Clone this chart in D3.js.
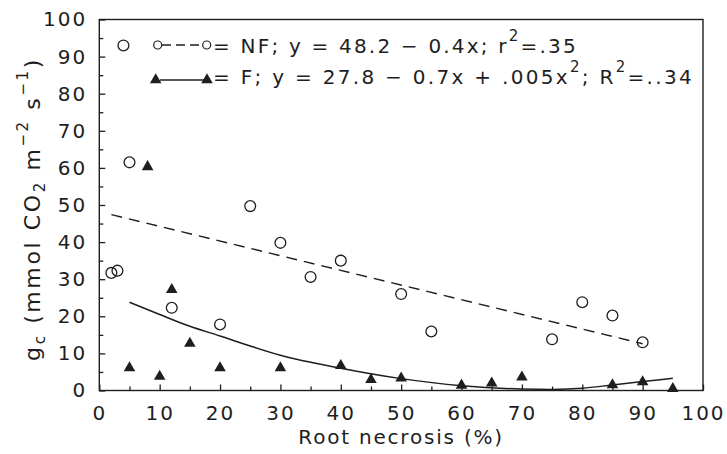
<!DOCTYPE html>
<html>
<head>
<meta charset="utf-8">
<script src="https://cdn.jsdelivr.net/npm/d3@7/dist/d3.min.js"></script>
<style>
  html, body { margin: 0; padding: 0; background: #ffffff; }
  svg { display: block; }
  text { font-family: "DejaVu Sans", sans-serif; fill: #1e1e1e; }
</style>
</head>
<body>
<svg id="chart" width="727" height="454"></svg>
<script>
// ---- data ----
const nfX = [2, 3, 4, 5, 12, 20, 25, 30, 35, 40, 50, 55, 75, 80, 85, 90];
const nfY = [31.7, 32.3, 93, 61.5, 22.3, 17.8, 49.7, 39.8, 30.6, 35.0, 26.0, 15.9, 13.8, 23.8, 20.2, 13.0];

const fX = [5, 8, 10, 12, 15, 20, 30, 40, 45, 50, 60, 65, 70, 85, 90, 95];
const fY = [6.1, 60.3, 3.8, 27.2, 12.7, 6.1, 6.1, 6.7, 2.9, 3.3, 1.4, 2.0, 3.6, 1.5, 2.3, 0.5];

// fitted lines as drawn in the figure
const nfFitX = [2, 90];
const nfFitY = [47.4, 12.6];
const fFitX = [5, 10, 15, 20, 25, 30, 40, 50, 60, 70, 75, 80, 85, 90, 95];
const fFitY = [23.8, 20.5, 17.3, 14.7, 12.0, 9.5, 6.0, 3.2, 1.3, 0.4, 0.3, 0.6, 1.5, 2.4, 3.3];

const xMajorTicks = [0, 10, 20, 30, 40, 50, 60, 70, 80, 90, 100];
const yMajorTicks = [0, 10, 20, 30, 40, 50, 60, 70, 80, 90, 100];
const minorTicks = [5, 15, 25, 35, 45, 55, 65, 75, 85, 95];

const xTitle = "Root necrosis (%)";

// ---- layout ----
const svg = d3.select("#chart");
const W = 727, H = 454;
const m = { left: 99.3, right: 24, top: 19.5, bottom: 63.5 };
const ink = "#1e1e1e";

const x = d3.scaleLinear().domain([0, 100]).range([m.left, W - m.right]);
const y = d3.scaleLinear().domain([0, 100]).range([H - m.bottom, m.top]);

// frame
svg.append("rect")
  .attr("x", x(0)).attr("y", y(100))
  .attr("width", x(100) - x(0)).attr("height", y(0) - y(100))
  .attr("fill", "none").attr("stroke", ink).attr("stroke-width", 1.4);

// axes
const gx = svg.append("g").attr("transform", `translate(0,${y(0)})`)
  .call(d3.axisBottom(x).tickValues(xMajorTicks).tickSize(-6).tickSizeOuter(0).tickPadding(15));
const gxm = svg.append("g").attr("transform", `translate(0,${y(0)})`)
  .call(d3.axisBottom(x).tickValues(minorTicks).tickSize(-4).tickSizeOuter(0).tickFormat(""));
const gy = svg.append("g").attr("transform", `translate(${x(0)},0)`)
  .call(d3.axisLeft(y).tickValues(yMajorTicks).tickSize(-6).tickSizeOuter(0).tickPadding(12));
const gym = svg.append("g").attr("transform", `translate(${x(0)},0)`)
  .call(d3.axisLeft(y).tickValues(minorTicks).tickSize(-4).tickSizeOuter(0).tickFormat(""));

[gx, gxm, gy, gym].forEach(g => {
  g.select(".domain").remove();
  g.selectAll(".tick line").attr("stroke", ink).attr("stroke-width", 1.3);
  g.selectAll(".tick text")
    .attr("font-family", "DejaVu Sans")
    .attr("font-size", 20)
    .attr("letter-spacing", "2px")
    .attr("fill", ink);
});

// x title
svg.append("text")
  .attr("x", (x(0) + x(100)) / 2)
  .attr("y", 444)
  .attr("text-anchor", "middle")
  .attr("font-size", 20)
  .attr("letter-spacing", "1.8px")
  .text(xTitle);

// y title
const yt = svg.append("text")
  .attr("transform", "translate(40,209) rotate(-90)")
  .attr("text-anchor", "middle")
  .attr("font-size", 22)
  .attr("letter-spacing", "2.6px");
yt.append("tspan").text("g");
yt.append("tspan").attr("font-size", 15).attr("dy", 5).text("c");
yt.append("tspan").attr("dy", -5).text(" (mmol CO");
yt.append("tspan").attr("font-size", 15).attr("dy", 5).text("2");
yt.append("tspan").attr("dy", -5).text(" m");
yt.append("tspan").attr("font-size", 15).attr("dy", -12).text("\u22122");
yt.append("tspan").attr("dy", 12).text(" s");
yt.append("tspan").attr("font-size", 15).attr("dy", -12).text("\u22121");
yt.append("tspan").attr("dy", 12).text(")");

// fit lines
const line = d3.line().x(d => x(d[0])).y(d => y(d[1]));
svg.append("path")
  .datum(nfFitX.map((v, i) => [v, nfFitY[i]]))
  .attr("d", line)
  .attr("fill", "none").attr("stroke", ink).attr("stroke-width", 1.4)
  .attr("stroke-dasharray", "11,7");
svg.append("path")
  .datum(fFitX.map((v, i) => [v, fFitY[i]]))
  .attr("d", line.curve(d3.curveMonotoneX))
  .attr("fill", "none").attr("stroke", ink).attr("stroke-width", 1.5);

// points
const tri = d3.symbol(d3.symbolTriangle, 58);
svg.append("g").selectAll("circle")
  .data(nfX.map((v, i) => [v, nfY[i]]))
  .join("circle")
  .attr("cx", d => x(d[0])).attr("cy", d => y(d[1]))
  .attr("r", 5.4)
  .attr("fill", "none").attr("stroke", ink).attr("stroke-width", 1.3);
svg.append("g").selectAll("path")
  .data(fX.map((v, i) => [v, fY[i]]))
  .join("path")
  .attr("d", tri)
  .attr("transform", d => `translate(${x(d[0])},${y(d[1])})`)
  .attr("fill", ink);

// legend
const lg = svg.append("g");
// row 1
lg.append("line").attr("x1", 162).attr("x2", 202).attr("y1", 45).attr("y2", 45)
  .attr("stroke", ink).attr("stroke-width", 1.4).attr("stroke-dasharray", "9,5");
lg.append("circle").attr("cx", 157.7).attr("cy", 45).attr("r", 4)
  .attr("fill", "#fff").attr("stroke", ink).attr("stroke-width", 1.2);
lg.append("circle").attr("cx", 206.7).attr("cy", 45).attr("r", 4)
  .attr("fill", "#fff").attr("stroke", ink).attr("stroke-width", 1.2);
const t1 = lg.append("text").attr("x", 213).attr("y", 53)
  .attr("font-size", 20).attr("letter-spacing", "2.2px");
t1.append("tspan").text("= NF; y = 48.2 \u2212 0.4x; r");
t1.append("tspan").attr("font-size", 15).attr("dy", -12).text("2");
t1.append("tspan").attr("dy", 12).text("=.35");
// row 2
lg.append("line").attr("x1", 160).attr("x2", 204).attr("y1", 80).attr("y2", 80)
  .attr("stroke", ink).attr("stroke-width", 1.4);
lg.append("path").attr("d", tri).attr("transform", "translate(155.7,80)").attr("fill", ink);
lg.append("path").attr("d", tri).attr("transform", "translate(207,80)").attr("fill", ink);
const t2 = lg.append("text").attr("x", 213).attr("y", 84)
  .attr("font-size", 20).attr("letter-spacing", "2.3px");
t2.append("tspan").text("= F; y = 27.8 \u2212 0.7x + .005x");
t2.append("tspan").attr("font-size", 15).attr("dy", -12).text("2");
t2.append("tspan").attr("dy", 12).text("; R");
t2.append("tspan").attr("font-size", 15).attr("dy", -12).text("2");
t2.append("tspan").attr("dy", 12).text("=..34");
</script>
</body>
</html>
